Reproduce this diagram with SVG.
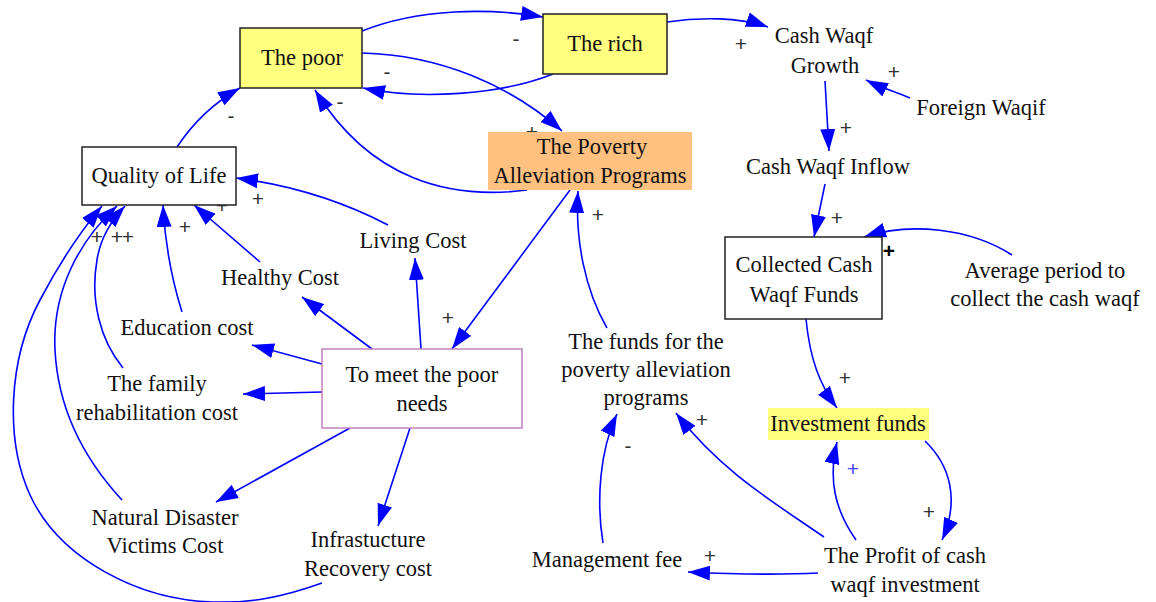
<svg xmlns="http://www.w3.org/2000/svg" width="1156" height="602" viewBox="0 0 1156 602">
<style>
.t{font-family:"Liberation Serif","Times New Roman",serif;font-size:22.5px;fill:#111;text-anchor:middle}
.p{font-family:"Liberation Sans",Arial,sans-serif;font-size:21px;fill:#333;text-anchor:middle}
.c{fill:none;stroke:#0000ff;stroke-width:1.6;marker-end:url(#ah)}
.box{stroke:#222;stroke-width:1.5}
</style>
<defs>
<marker id="ah" markerUnits="userSpaceOnUse" markerWidth="23" markerHeight="15" refX="22" refY="7.5" orient="auto">
<path d="M0,0 L22,7.5 L0,15 z" fill="#0000ff"/>
</marker>
</defs>
<rect width="1156" height="602" fill="#fff"/>
<g id="connectors">
<path class="c" d="M362,31 C420,8 490,8 543,17"/>
<path class="c" d="M553,74 C500,95 420,100 363,88"/>
<path class="c" d="M362,53 C440,55 510,85 562,131"/>
<path class="c" d="M527,190 C450,200 370,180 315,90"/>
<path class="c" d="M177,147 C195,120 215,102 240,88"/>
<path class="c" d="M667,22 C700,17 740,17 768,27"/>
<path class="c" d="M910,98 C895,92 880,87 866,80"/>
<path class="c" d="M825,81 L829,151"/>
<path class="c" d="M825,184 L814,237"/>
<path class="c" d="M1012,255 C970,228 910,222 864,237"/>
<path class="c" d="M806,319 C810,360 820,385 837,408"/>
<path class="c" d="M925,441 C950,465 960,500 942,540"/>
<path class="c" d="M856,540 C835,510 828,480 837,442"/>
<path class="c" d="M824,537 C770,500 720,470 676,413"/>
<path class="c" d="M818,573 C780,575 730,574 688,572"/>
<path class="c" d="M603,543 C596,500 600,450 617,414"/>
<path class="c" d="M607,328 C585,290 575,240 578,191"/>
<path class="c" d="M570,190 L452,349"/>
<path class="c" d="M421,349 L415,258"/>
<path class="c" d="M372,349 L302,297"/>
<path class="c" d="M322,364 L252,345"/>
<path class="c" d="M322,392 L243,394"/>
<path class="c" d="M350,428 L216,502"/>
<path class="c" d="M410,428 L378,526"/>
<path class="c" d="M388,225 C340,200 290,185 236,178"/>
<path class="c" d="M260,262 L194,205"/>
<path class="c" d="M182,312 C172,280 165,245 163,205"/>
<path class="c" d="M123,368 C100,340 90,300 97,260 C100,240 110,222 125,206"/>
<path class="c" d="M122,500 C85,460 58,410 55,350 C52,290 80,240 117,206"/>
<path class="c" d="M322,583 C280,598 250,603 213,602 C140,600 60,560 30,495 C5,440 8,360 40,300 C60,262 80,232 102,206"/>
</g>
<g id="polarities">
<text class="p" x="516" y="46">-</text>
<text class="p" x="387" y="79">-</text>
<text class="p" x="532" y="139">+</text>
<text class="p" x="340" y="109">-</text>
<text class="p" x="231" y="123">-</text>
<text class="p" x="741" y="51">+</text>
<text class="p" x="894" y="79">+</text>
<text class="p" x="846" y="135">+</text>
<text class="p" x="837" y="225">+</text>
<text class="p" x="889" y="258" style="fill:#000;font-weight:bold">+</text>
<text class="p" x="845" y="385">+</text>
<text class="p" x="929" y="519">+</text>
<text class="p" x="853" y="476" style="fill:#4444ff">+</text>
<text class="p" x="702" y="427">+</text>
<text class="p" x="710" y="563">+</text>
<text class="p" x="628" y="453">-</text>
<text class="p" x="598" y="222">+</text>
<text class="p" x="448" y="325">+</text>
<text class="p" x="258" y="206">+</text>
<text class="p" x="222" y="213">+</text>
<text class="p" x="185" y="234">+</text>
<text class="p" x="97" y="244">+</text>
<text class="p" x="117" y="244">+</text>
<text class="p" x="128" y="244">+</text>
</g>
<g id="the-poor"><rect class="box" x="240" y="28" width="122" height="60" fill="#ffff80"/><text class="t" x="302" y="65">The poor</text></g>
<g id="the-rich"><rect class="box" x="543" y="14" width="124" height="60" fill="#ffff80"/><text class="t" x="605" y="51">The rich</text></g>
<g id="quality-of-life"><rect class="box" x="82" y="147" width="154" height="58" fill="#fff"/><text class="t" x="159" y="183">Quality of Life</text></g>
<g id="poverty-programs"><rect x="488" y="132" width="204" height="58" fill="#ffc080"/><text class="t" x="592" y="154">The Poverty</text><text class="t" x="590" y="183">Alleviation Programs</text></g>
<g id="cash-waqf-growth"><text class="t" x="824" y="43">Cash Waqf</text><text class="t" x="825" y="73">Growth</text></g>
<g id="foreign-waqif"><text class="t" x="981" y="115">Foreign Waqif</text></g>
<g id="cash-waqf-inflow"><text class="t" x="828" y="174">Cash Waqf Inflow</text></g>
<g id="collected-funds"><rect class="box" x="725" y="237" width="157" height="82" fill="#fff"/><text class="t" x="804" y="272">Collected Cash</text><text class="t" x="804" y="302">Waqf Funds</text></g>
<g id="average-period"><text class="t" x="1045" y="278">Average period to</text><text class="t" x="1045" y="306">collect the cash waqf</text></g>
<g id="investment-funds"><rect x="768" y="408" width="161" height="32" fill="#ffff80"/><text class="t" x="848" y="431">Investment funds</text></g>
<g id="profit"><text class="t" x="905" y="563">The Profit of cash</text><text class="t" x="905" y="592">waqf investment</text></g>
<g id="management-fee"><text class="t" x="607" y="567">Management fee</text></g>
<g id="funds-programs"><text class="t" x="646" y="349">The funds for the</text><text class="t" x="646" y="377">poverty alleviation</text><text class="t" x="646" y="405">programs</text></g>
<g id="meet-needs"><rect x="322" y="349" width="200" height="79" fill="#fff" stroke="#c080c0" stroke-width="1.5"/><text class="t" x="422" y="382">To meet the poor</text><text class="t" x="422" y="411">needs</text></g>
<g id="living-cost"><text class="t" x="413" y="248">Living Cost</text></g>
<g id="healthy-cost"><text class="t" x="280" y="285">Healthy Cost</text></g>
<g id="education-cost"><text class="t" x="187" y="335">Education cost</text></g>
<g id="family-cost"><text class="t" x="157" y="391">The family</text><text class="t" x="157" y="420">rehabilitation cost</text></g>
<g id="disaster-cost"><text class="t" x="165" y="525">Natural Disaster</text><text class="t" x="165" y="553">Victims Cost</text></g>
<g id="infrastructure-cost"><text class="t" x="368" y="547">Infrastucture</text><text class="t" x="368" y="576">Recovery cost</text></g>
</svg>
